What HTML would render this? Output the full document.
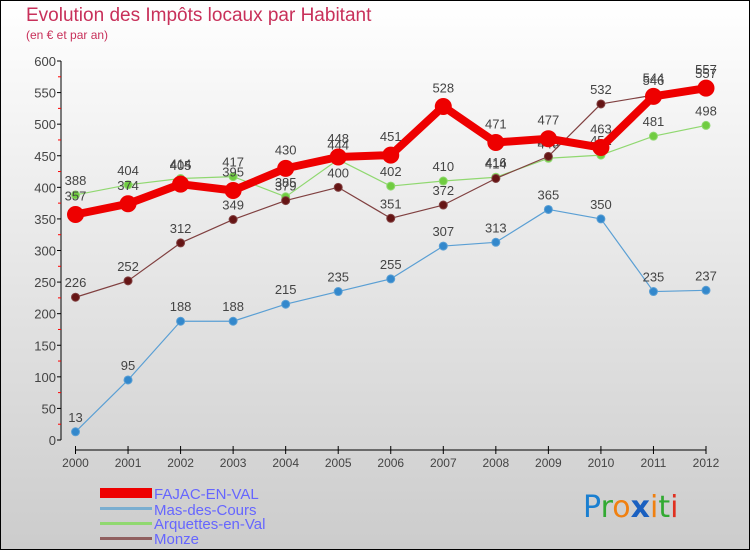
<!DOCTYPE html>
<html><head><meta charset="utf-8"><style>
body{margin:0;}
svg{display:block;font-family:"Liberation Sans",sans-serif;}
</style></head><body>
<svg id="c" width="750" height="550" viewBox="0 0 750 550">
<defs><linearGradient id="bg" x1="0" y1="0" x2="0" y2="1"><stop offset="0" stop-color="#ffffff"/><stop offset="1" stop-color="#cccccc"/></linearGradient></defs>
<rect x="0.5" y="0.5" width="749" height="549" fill="url(#bg)" stroke="#000"/>
<text x="26" y="21" font-size="19" fill="#c8305a">Evolution des Impôts locaux par Habitant</text>
<text x="26" y="39" font-size="12" fill="#c8305a">(en € et par an)</text>
<g id="axes"></g>
<g id="series"></g>
<g id="legend">
<rect x="100" y="488" width="52" height="10" fill="#ee0000"/>
<text x="154" y="499" font-size="15" fill="#6666ff">FAJAC-EN-VAL</text>
<rect x="100" y="507" width="52" height="3" fill="#7aaed0"/>
<text x="154" y="515" font-size="15" fill="#6666ff">Mas-des-Cours</text>
<rect x="100" y="522" width="52" height="3" fill="#90d870"/>
<text x="154" y="529" font-size="15" fill="#6666ff">Arquettes-en-Val</text>
<rect x="100" y="537" width="52" height="3" fill="#906060"/>
<text x="154" y="544" font-size="15" fill="#6666ff">Monze</text>
</g>
<g font-size="30" font-family="'DejaVu Sans',sans-serif">
<text x="583" y="517"><tspan fill="#1a7fd0">P</tspan><tspan fill="#33aa33">r</tspan><tspan fill="#f08010">o</tspan><tspan fill="#1a60c0" font-weight="bold">x</tspan><tspan fill="#f08010">i</tspan><tspan fill="#33aa33">t</tspan><tspan fill="#e03020">i</tspan></text>
</g>
</svg>
<script>
const years=["2000","2001","2002","2003","2004","2005","2006","2007","2008","2009","2010","2011","2012"];
const fajac=[357,374,405,395,430,448,451,528,471,477,463,544,557];
const mas=[13,95,188,188,215,235,255,307,313,365,350,235,237];
const arquettes=[388,404,414,417,385,444,402,410,416,446,451,481,498];
const monze=[226,252,312,349,379,400,351,372,414,449,532,546,557];
const yTicks=[0,50,100,150,200,250,300,350,400,450,500,550,600];
const NS="http://www.w3.org/2000/svg";
const x0=75.5,x1=706,y0=440,y1=61,yMax=600;
function X(i){return x0+(x1-x0)*i/(years.length-1);}
function Y(v){return y0-(y0-y1)*v/yMax;}
function mk(t,a,p){const e=document.createElementNS(NS,t);for(const k in a)e.setAttribute(k,a[k]);p.appendChild(e);return e;}
const ax=document.getElementById('axes');
const yl=mk('line',{x1:61,y1:y1,x2:61,y2:y0,stroke:'#000'},ax);


yTicks.forEach((v,i)=>{
 mk('line',{x1:57,y1:Y(v),x2:61,y2:Y(v),stroke:'#000'},ax);
 if(i<yTicks.length-1)mk('line',{x1:58,y1:Y(v+25),x2:61,y2:Y(v+25),stroke:'#f00'},ax);
 const t=mk('text',{x:56,y:Y(v)+5,'text-anchor':'end','font-size':13,fill:'#444'},ax);
 t.textContent=v;
 
 
});
const xl=mk('line',{x1:x0,y1:450,x2:x1,y2:450,stroke:'#000'},ax);


years.forEach((y,i)=>{
 mk('line',{x1:X(i),y1:446,x2:X(i),y2:454,stroke:'#000'},ax);
 const t=mk('text',{x:X(i),y:467,'text-anchor':'middle','font-size':12,fill:'#444'},ax);
 t.textContent=y;
 
 
});
const sg=document.getElementById('series');
function draw(name,data,color,w,r,fill){
 const g=mk('g',{},sg);
 
 
 const pl=mk('polyline',{points:data.map((v,i)=>X(i)+','+Y(v)).join(' '),fill:'none',stroke:color,'stroke-width':w,'stroke-linejoin':'round'},g);
 
 
 data.forEach((v,i)=>{
  const c=mk('circle',{cx:X(i),cy:Y(v),r:r,fill:fill,stroke:color,'stroke-width':1},g);
  
  
  const t=mk('text',{x:X(i),y:Y(v)-r-6,'text-anchor':'middle','font-size':13,fill:'#444'},g);
  t.textContent=v;
  
  
 });
}
draw('mas',mas,'#5a9fd4',1.2,4,'#3388cc');
draw('arquettes',arquettes,'#90d870',1.2,4,'#70cc40');
draw('monze',monze,'#804040',1.2,4,'#661515');
draw('fajac',fajac,'#ee0000',8,8,'#ee0000');
</script>
</body></html>
